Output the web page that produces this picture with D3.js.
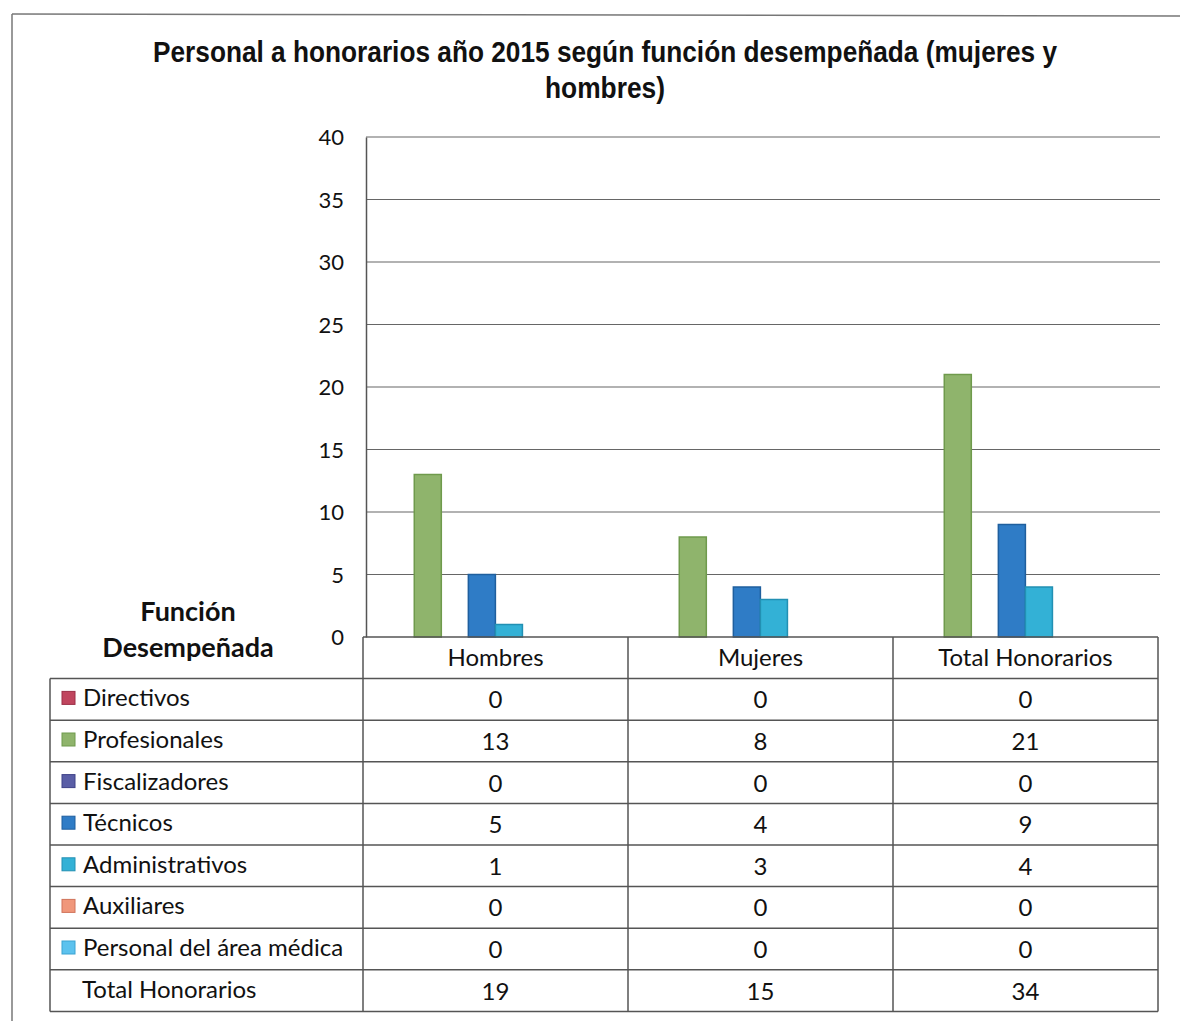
<!DOCTYPE html>
<html>
<head>
<meta charset="utf-8">
<script src="https://cdn.jsdelivr.net/npm/d3@7"></script>
<style>
  body { margin: 0; background: #fff; }
  svg text { fill: #111; }
  .lbl { font-family: Lato, "Open Sans", sans-serif; font-size: 24px; }
  .tick text { font-family: Lato, "Open Sans", sans-serif; font-size: 22px; }
  .title { font-family: "Liberation Sans Narrow", "Arial Narrow", "Liberation Sans", sans-serif; font-weight: bold; font-size: 29px; }
</style>
</head>
<body>
<svg id="chart" width="1180" height="1021"></svg>
<script>
var titleLines = ["Personal a honorarios año 2015 según función desempeñada (mujeres y", "hombres)"];
var titleWidths = [904, 120];
var categories = ["Hombres", "Mujeres", "Total Honorarios"];
var series = ["Directivos", "Profesionales", "Fiscalizadores", "Técnicos", "Administrativos", "Auxiliares", "Personal del área médica"];
var colors = ["#c0455e", "#8fb46c", "#5a5ea6", "#2f7cc6", "#33b1d6", "#f0977b", "#5cc2ee"];
var strokes = ["#9c2f47", "#6f9a4c", "#3f4288", "#1f5f9e", "#2290b3", "#d0735a", "#3aa3d2"];
var values = [
  [0, 0, 0],
  [13, 8, 21],
  [0, 0, 0],
  [5, 4, 9],
  [1, 3, 4],
  [0, 0, 0],
  [0, 0, 0]
];
var totals = [19, 15, 34];
var yTicks = [0, 5, 10, 15, 20, 25, 30, 35, 40];

var svg = d3.select("#chart");
var plotLeft = 366, plotRight = 1160, plotTop = 137, plotBottom = 637;
var tableLeft = 50, colStart = 363, colEnd = 1158;
var rowH = 41.6;

// page frame
svg.append("line").attr("x1", 12).attr("y1", 14).attr("x2", 1180).attr("y2", 16)
  .attr("stroke", "#777").attr("stroke-width", 1.5);
svg.append("line").attr("x1", 12).attr("y1", 14).attr("x2", 12).attr("y2", 1021)
  .attr("stroke", "#777").attr("stroke-width", 1.5);

// title (condensed look via textLength)
svg.selectAll(".title").data(titleLines).enter().append("text")
  .attr("class", "title")
  .attr("x", 605)
  .attr("y", function(d, i){ return 62 + i*36; })
  .attr("text-anchor", "middle")
  .attr("textLength", function(d, i){ return titleWidths[i]; })
  .attr("lengthAdjust", "spacingAndGlyphs")
  .text(function(d){ return d; });

var y = d3.scaleLinear().domain([0, 40]).range([plotBottom, plotTop]);
var x = d3.scaleBand().domain(categories).range([colStart, colEnd]);
var xs = d3.scaleBand().domain(series).range([0, x.bandwidth()]).paddingOuter(1.4).align(0.32);

// gridlines
svg.selectAll(".grid").data(yTicks.slice(1)).enter().append("line")
  .attr("x1", plotLeft).attr("x2", plotRight)
  .attr("y1", function(d){ return y(d); })
  .attr("y2", function(d){ return y(d); })
  .attr("stroke", "#666").attr("stroke-width", 1.2);

// y axis
var yAxis = d3.axisLeft(y).tickValues(yTicks).tickSize(0).tickPadding(22);
var gy = svg.append("g").attr("transform", "translate(" + plotLeft + ",0)").call(yAxis);
gy.attr("font-size", null).attr("font-family", null);
gy.select(".domain").attr("stroke", "#555").attr("stroke-width", 1.5);
gy.selectAll("text").attr("fill", "#111").attr("dy", "0.35em");

// bars
var bars = [];
series.forEach(function(s, i){
  categories.forEach(function(c, j){
    bars.push({s: s, c: c, v: values[i][j], i: i});
  });
});
svg.selectAll(".bar").data(bars.filter(function(d){ return d.v > 0; })).enter().append("rect")
  .attr("x", function(d){ return x(d.c) + xs(d.s); })
  .attr("y", function(d){ return y(d.v); })
  .attr("width", xs.bandwidth())
  .attr("height", function(d){ return y(0) - y(d.v); })
  .attr("fill", function(d){ return colors[d.i]; })
  .attr("stroke", function(d){ return strokes[d.i]; })
  .attr("stroke-width", 1.5);

// data table
var tbl = svg.append("g").attr("fill", "none").attr("stroke", "#555").attr("stroke-width", 1.5);
var rows = series.length + 1;
var tableTop = plotBottom + rowH;
var tableBottom = tableTop + rows*rowH;
tbl.append("line").attr("x1", colStart).attr("x2", colEnd).attr("y1", plotBottom).attr("y2", plotBottom);
d3.range(rows + 1).forEach(function(r){
  tbl.append("line").attr("x1", tableLeft).attr("x2", colEnd)
    .attr("y1", tableTop + r*rowH).attr("y2", tableTop + r*rowH);
});
tbl.append("line").attr("x1", tableLeft).attr("x2", tableLeft).attr("y1", tableTop).attr("y2", tableBottom);
categories.forEach(function(c){
  tbl.append("line").attr("x1", x(c)).attr("x2", x(c)).attr("y1", plotBottom).attr("y2", tableBottom);
});
tbl.append("line").attr("x1", colEnd).attr("x2", colEnd).attr("y1", plotBottom).attr("y2", tableBottom);

// header labels
svg.selectAll(".cat").data(categories).enter().append("text")
  .attr("class", "lbl")
  .attr("x", function(d){ return x(d) + x.bandwidth()/2; })
  .attr("y", plotBottom + rowH/2 + 8)
  .attr("text-anchor", "middle")
  .text(function(d){ return d; });

svg.selectAll(".fd").data(["Función", "Desempeñada"]).enter().append("text")
  .attr("class", "lbl")
  .attr("font-weight", "bold")
  .style("font-size", "27px")
  .attr("x", 188)
  .attr("y", function(d, i){ return 621 + i*36; })
  .attr("text-anchor", "middle")
  .text(function(d){ return d; });

// legend rows
var rowG = svg.selectAll(".row").data(series).enter().append("g")
  .attr("transform", function(d, i){ return "translate(0," + (tableTop + i*rowH) + ")"; });
rowG.append("rect")
  .attr("x", 62).attr("y", rowH/2 - 8).attr("width", 13).attr("height", 13)
  .attr("fill", function(d, i){ return colors[i]; })
  .attr("stroke", function(d, i){ return strokes[i]; });
rowG.append("text").attr("class", "lbl")
  .attr("x", 83).attr("y", rowH/2 + 7)
  .text(function(d){ return d; });
rowG.each(function(d, i){
  d3.select(this).selectAll(".val").data(values[i]).enter().append("text")
    .attr("class", "lbl")
    .attr("x", function(v, j){ return x(categories[j]) + x.bandwidth()/2; })
    .attr("y", rowH/2 + 9)
    .attr("text-anchor", "middle")
    .text(function(v){ return v; });
});

// totals row
var totG = svg.append("g").attr("transform", "translate(0," + (tableTop + series.length*rowH) + ")");
totG.append("text").attr("class", "lbl").attr("x", 82).attr("y", rowH/2 + 7).text("Total Honorarios");
totG.selectAll(".tv").data(totals).enter().append("text")
  .attr("class", "lbl")
  .attr("x", function(v, j){ return x(categories[j]) + x.bandwidth()/2; })
  .attr("y", rowH/2 + 9)
  .attr("text-anchor", "middle")
  .text(function(v){ return v; });
</script>
</body>
</html>
